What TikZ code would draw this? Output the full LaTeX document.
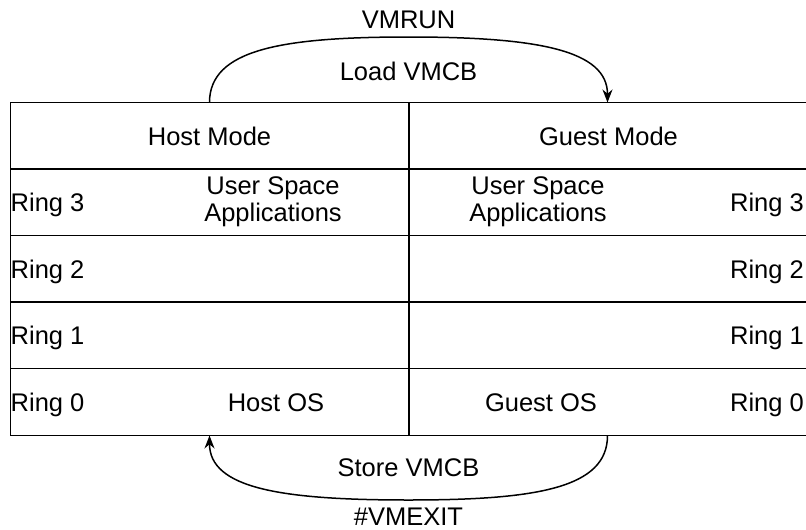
\documentclass[tikz,border=0pt]{standalone}
\usepackage{fontspec}
\setmainfont{Liberation Sans}
\usetikzlibrary{arrows.meta}

\begin{document}
\begin{tikzpicture}[x=1pt,y=-1pt,
  grid/.style={line width=1.5pt, black},
  lbl/.style={inner sep=0pt, anchor=base, font=\fontsize{25.5}{27}\selectfont},
  lblw/.style={lbl, anchor=base west},
  lble/.style={lbl, anchor=base east},
  twoline/.style={inner sep=0pt, anchor=north, align=center, font=\fontsize{25.5}{27}\selectfont},
  flow/.style={line width=1.5pt, black, -{Stealth[length=13pt,width=10pt]}}]

\useasboundingbox (0,0) rectangle (806,530);

% table frame and grid lines
\draw[grid] (10.5,102.5) rectangle (808,435.5);
\draw[grid] (409,102.5) -- (409,435.5);
\foreach \yy in {169,235.5,302,368.5}
  \draw[grid] (10.5,\yy) -- (808,\yy);

% header row
\node[lbl] (hostmode)  at (209.5,145) {Host Mode};
\node[lbl] (guestmode) at (608.5,145) {Guest Mode};

% ring labels, host side (left) and guest side (right)
\node[lblw] (hr3) at (10.5,211) {Ring 3};
\node[lblw] (hr2) at (10.5,278) {Ring 2};
\node[lblw] (hr1) at (10.5,344) {Ring 1};
\node[lblw] (hr0) at (10.5,411) {Ring 0};
\node[lble] (gr3) at (804,211) {Ring 3};
\node[lble] (gr2) at (804,278) {Ring 2};
\node[lble] (gr1) at (804,344) {Ring 1};
\node[lble] (gr0) at (804,411) {Ring 0};

% contents of the rings
\node[twoline] (hostapps)  at (273,176) {User Space\\Applications};
\node[twoline] (guestapps) at (538,176) {User Space\\Applications};
\node[lbl] (hostos)  at (276,411) {Host OS};
\node[lbl] (guestos) at (541,411) {Guest OS};

% attachment points on the outer border
\coordinate (hosttop)    at (209.5,102.5);
\coordinate (guesttop)   at (607.5,102.5);
\coordinate (hostbot)    at (209.5,435.5);
\coordinate (guestbot)   at (607.5,435.5);

% world switch: host -> guest
\draw[flow] (hosttop) .. controls (209.5,50) and (280,37) .. (408.5,37)
            .. controls (537,37) and (607.5,50) .. (guesttop);
\node[lbl] (vmrun)  at (408.5,28) {VMRUN};
\node[lbl] (loadvm) at (408.5,80) {Load VMCB};

% world switch: guest -> host
\draw[flow] (guestbot) .. controls (607.5,488) and (537,500) .. (408.5,500)
            .. controls (280,500) and (209.5,488) .. (hostbot);
\node[lbl] (storevm) at (408.5,476) {Store VMCB};
\node[lbl] (vmexit)  at (408.5,525) {\#VMEXIT};

\end{tikzpicture}
\end{document}
